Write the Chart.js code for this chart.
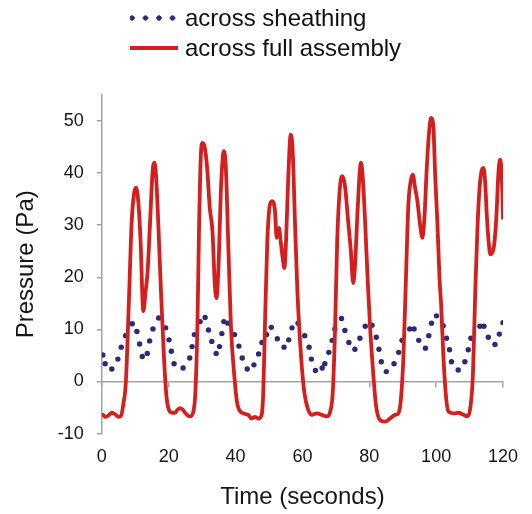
<!DOCTYPE html>
<html>
<head>
<meta charset="utf-8">
<title>Pressure across sheathing and full assembly</title>
<script src="https://cdn.jsdelivr.net/npm/chart.js@4.4.1/dist/chart.umd.min.js"></script>
<style>
    html, body { margin: 0; padding: 0; background: #fff; }
    #wrap { position: relative; width: 532px; height: 514px; }
    #legend {
        position: absolute; left: 130px; top: 3px;
        font: 24px "Liberation Sans", Arial, sans-serif; color: #111;
    }
    .row { display: flex; align-items: center; height: 30px; }
    .sym { width: 48px; margin-right: 7px; }
    .sym.dots {
        height: 6px;
        background: radial-gradient(circle, #2b2a78 2.4px, transparent 2.9px) -4.75px 0 / 13.5px 6px repeat-x;
    }
    .sym.line { height: 3.5px; background: #d3201f; }
</style>
</head>
<body>
<div id="wrap">
    <canvas id="pressureChart" width="532" height="514"></canvas>
    <div id="legend">
        <div class="row"><span class="sym dots"></span><span>across sheathing</span></div>
        <div class="row"><span class="sym line"></span><span>across full assembly</span></div>
    </div>
</div>
<script>
// Pressure across sheathing (blue dotted series)
const sheathingTime = [
    0.3, 1.0, 3.0, 4.8, 5.8, 7.1, 9.1, 10.5, 11.3, 12.1, 13.6, 14.3, 15.3, 17.0,
    19.1, 20.1, 20.8, 21.6, 24.3, 26.3, 27.0, 27.7, 29.4, 30.9, 31.9, 32.9, 34.2,
    35.2, 35.9, 36.5, 37.7, 39.7, 41.0, 42.0, 43.5, 45.5, 46.9, 47.9, 49.3, 50.7,
    52.5, 54.5, 55.9, 56.9, 58.7, 60.7, 62.0, 62.7, 63.9, 65.9, 66.7, 67.9, 68.9,
    69.7, 71.7, 72.7, 73.9, 75.7, 77.2, 78.8, 80.8, 82.1, 82.9, 83.6, 85.1, 87.4,
    88.8, 89.8, 92.1, 93.4, 94.8, 96.8, 97.8, 98.6, 100.1, 102.1, 103.1, 104.0,
    104.6, 106.6, 108.6, 109.6, 110.4, 113.1, 114.3, 115.6, 117.6, 118.9, 120.0
];
const sheathingPressure = [
    5.1, 3.4, 2.4, 4.3, 6.6, 8.8, 11.1, 9.6, 7.2, 4.8, 5.4, 7.8, 10.1, 12.2,
    10.3, 8.0, 5.8, 3.4, 2.6, 4.5, 6.7, 9.0, 11.5, 12.3, 9.9, 7.7, 5.4,
    6.7, 9.2, 11.5, 11.2, 9.0, 6.8, 4.5, 2.4, 3.2, 5.3, 7.5, 9.0, 10.4,
    8.2, 6.6, 8.0, 10.3, 11.2, 8.8, 6.6, 4.3, 2.1, 2.6, 3.4, 5.6, 7.9,
    10.1, 12.1, 9.8, 7.5, 6.2, 8.3, 10.6, 10.8, 8.5, 6.2, 3.8, 1.9, 3.4,
    5.6, 7.9, 10.1, 10.1, 7.9, 6.4, 8.8, 11.2, 12.6, 10.7, 8.3, 6.1,
    3.8, 2.2, 3.8, 6.1, 8.3, 10.6, 10.6, 8.5, 7.1, 9.1, 11.3
];

// Pressure across the full assembly (red line)
const assemblyTime = [
    0.0, 0.4, 1.0, 2.0, 3.0, 4.0, 5.0, 5.8, 6.4, 7.2, 8.2, 8.9, 9.6, 10.2, 10.9,
    11.6, 12.4, 13.1, 13.7, 14.4, 15.2, 15.7, 16.2, 16.9, 17.7, 18.6, 19.4, 20.4,
    21.2, 21.9, 22.7, 23.4, 24.2, 24.9, 26.3, 27.3, 28.0, 28.6, 29.1, 29.6, 30.1,
    30.8, 31.5, 32.3, 33.1, 33.8, 34.3, 35.0, 35.6, 36.5, 37.1, 37.8, 38.6, 39.6,
    40.6, 42.3, 43.8, 44.8, 45.8, 46.8, 47.8, 48.3, 48.8, 49.5, 50.3, 51.0, 51.8,
    52.3, 53.0, 53.5, 54.1, 54.6, 55.1, 55.8, 56.5, 57.1, 57.8, 58.5, 59.3, 60.3,
    61.3, 62.8, 64.3, 65.8, 67.3, 68.3, 69.1, 69.8, 70.4, 71.3, 72.0, 72.8, 73.6,
    74.5, 75.2, 75.7, 76.5, 77.5, 78.0, 78.7, 79.5, 80.2, 81.0, 82.0, 83.2, 84.7,
    86.2, 87.7, 88.7, 89.4, 90.2, 91.0, 91.7, 92.4, 93.0, 93.7, 94.4, 95.2, 95.9,
    96.5, 97.2, 98.0, 98.5, 99.2, 99.7, 100.4, 101.0, 101.5, 102.2, 103.0, 103.7,
    105.2, 106.7, 108.2, 109.4, 110.2, 111.0, 111.7, 112.4, 113.0, 113.7, 114.2,
    114.7, 115.2, 115.7, 116.2, 117.2, 118.0, 118.6, 119.1, 119.5, 119.8, 120.0
];
const assemblyPressure = [
    -6.6, -6.4, -6.8, -6.5, -6.0, -6.3, -6.8, -6.5, -4.5, 0.0, 17.3, 30.2, 35.9, 37.2, 34.6,
    26.9, 13.5, 17.3, 21.2, 30.1, 40.4, 42.0, 39.7, 30.2, 17.3, 4.5, -3.2, -5.8,
    -6.0, -6.0, -5.4, -5.1, -5.4, -6.0, -6.7, -6.0, -1.9, 10.9, 30.1, 43.0, 45.8,
    44.9, 41.0, 33.3, 28.8, 18.6, 16.0, 23.7, 36.5, 44.2, 41.0, 26.9, 10.9, 1.3,
    -4.5, -6.1, -6.4, -7.1, -6.8, -7.1, -6.4, -1.9, 10.9, 26.9, 34.0, 34.6, 32.7,
    27.6, 29.5, 26.9, 23.7, 21.8, 26.9, 39.7, 47.4, 44.2, 30.1, 17.3, 7.7, -0.6,
    -4.5, -6.4, -6.1, -6.4, -6.7, -5.8, -1.9, 10.9, 26.9, 37.8, 39.4, 37.2, 31.4,
    25.0, 18.9, 21.8, 32.7, 42.0, 39.7, 31.4, 19.9, 10.9, 3.2, -4.5, -7.4, -7.7,
    -7.1, -6.4, -6.1, -3.8, 4.5, 20.5, 34.0, 38.5, 39.7, 37.2, 34.6, 30.1, 27.6,
    31.4, 41.0, 48.7, 50.6, 48.7, 39.7, 30.1, 19.9, 14.7, 4.5, -3.2, -5.8,
    -6.1, -6.0, -6.4, -6.7, -5.1, 1.3, 17.3, 30.1, 37.2, 40.7, 41.0,
    37.8, 31.4, 26.9, 24.4, 25.6, 31.4, 39.7, 42.6, 41.0, 36.5, 31.1
];

// Axis ranges
const timeMin = 0, timeMax = 120, timeStep = 20;
const pressureMin = -10, pressureMax = 55, pressureStep = 10;

const axisGray = '#a3a3a3';
const textColor = '#161616';

Chart.defaults.font.family = '"Liberation Sans", Arial, Helvetica, sans-serif';
Chart.defaults.color = textColor;

function toPoints(xs, ys) {
    return xs.map((x, i) => ({ x: x, y: ys[i] }));
}

const ctx = document.getElementById('pressureChart').getContext('2d');

new Chart(ctx, {
    type: 'line',
    data: {
        datasets: [
            {
                label: 'across full assembly',
                data: toPoints(assemblyTime, assemblyPressure),
                borderColor: '#d3201f',
                borderWidth: 3.8,
                borderJoinStyle: 'round',
                cubicInterpolationMode: 'monotone',
                pointRadius: 0,
                fill: false
            },
            {
                label: 'across sheathing',
                data: toPoints(sheathingTime, sheathingPressure),
                showLine: false,
                pointRadius: 2.7,
                pointBorderWidth: 0,
                pointBackgroundColor: '#2b2a78',
                pointBorderColor: '#2b2a78'
            }
        ]
    },
    options: {
        responsive: false,
        animation: false,
        layout: { padding: { top: 95, right: 29, bottom: 0, left: 12 } },
        plugins: {
            legend: { display: false },
            tooltip: { enabled: false }
        },
        scales: {
            x: {
                type: 'linear',
                position: 'bottom',
                min: timeMin,
                max: timeMax,
                border: { display: false },
                grid: { display: false, drawTicks: false },
                ticks: { stepSize: timeStep, padding: 13, font: { size: 18 } },
                title: {
                    display: true,
                    text: 'Time (seconds)',
                    font: { size: 24 },
                    padding: { top: 2, bottom: 2 }
                }
            },
            // the horizontal axis line itself sits at zero pressure
            xZero: {
                type: 'linear',
                position: { y: 0 },
                min: timeMin,
                max: timeMax,
                ticks: { display: false, stepSize: timeStep },
                grid: { drawOnChartArea: false, tickLength: 5, color: axisGray, lineWidth: 1.5 },
                border: { color: axisGray, width: 1.5 }
            },
            y: {
                type: 'linear',
                min: pressureMin,
                max: pressureMax,
                ticks: { stepSize: pressureStep, includeBounds: false, padding: 13, font: { size: 18 } },
                grid: { drawOnChartArea: false, tickLength: 5, color: axisGray, lineWidth: 1.5 },
                border: { color: axisGray, width: 1.5 },
                title: {
                    display: true,
                    text: 'Pressure (Pa)',
                    font: { size: 24 },
                    padding: { top: 0, bottom: 4 }
                }
            }
        }
    }
});
</script>
</body>
</html>
